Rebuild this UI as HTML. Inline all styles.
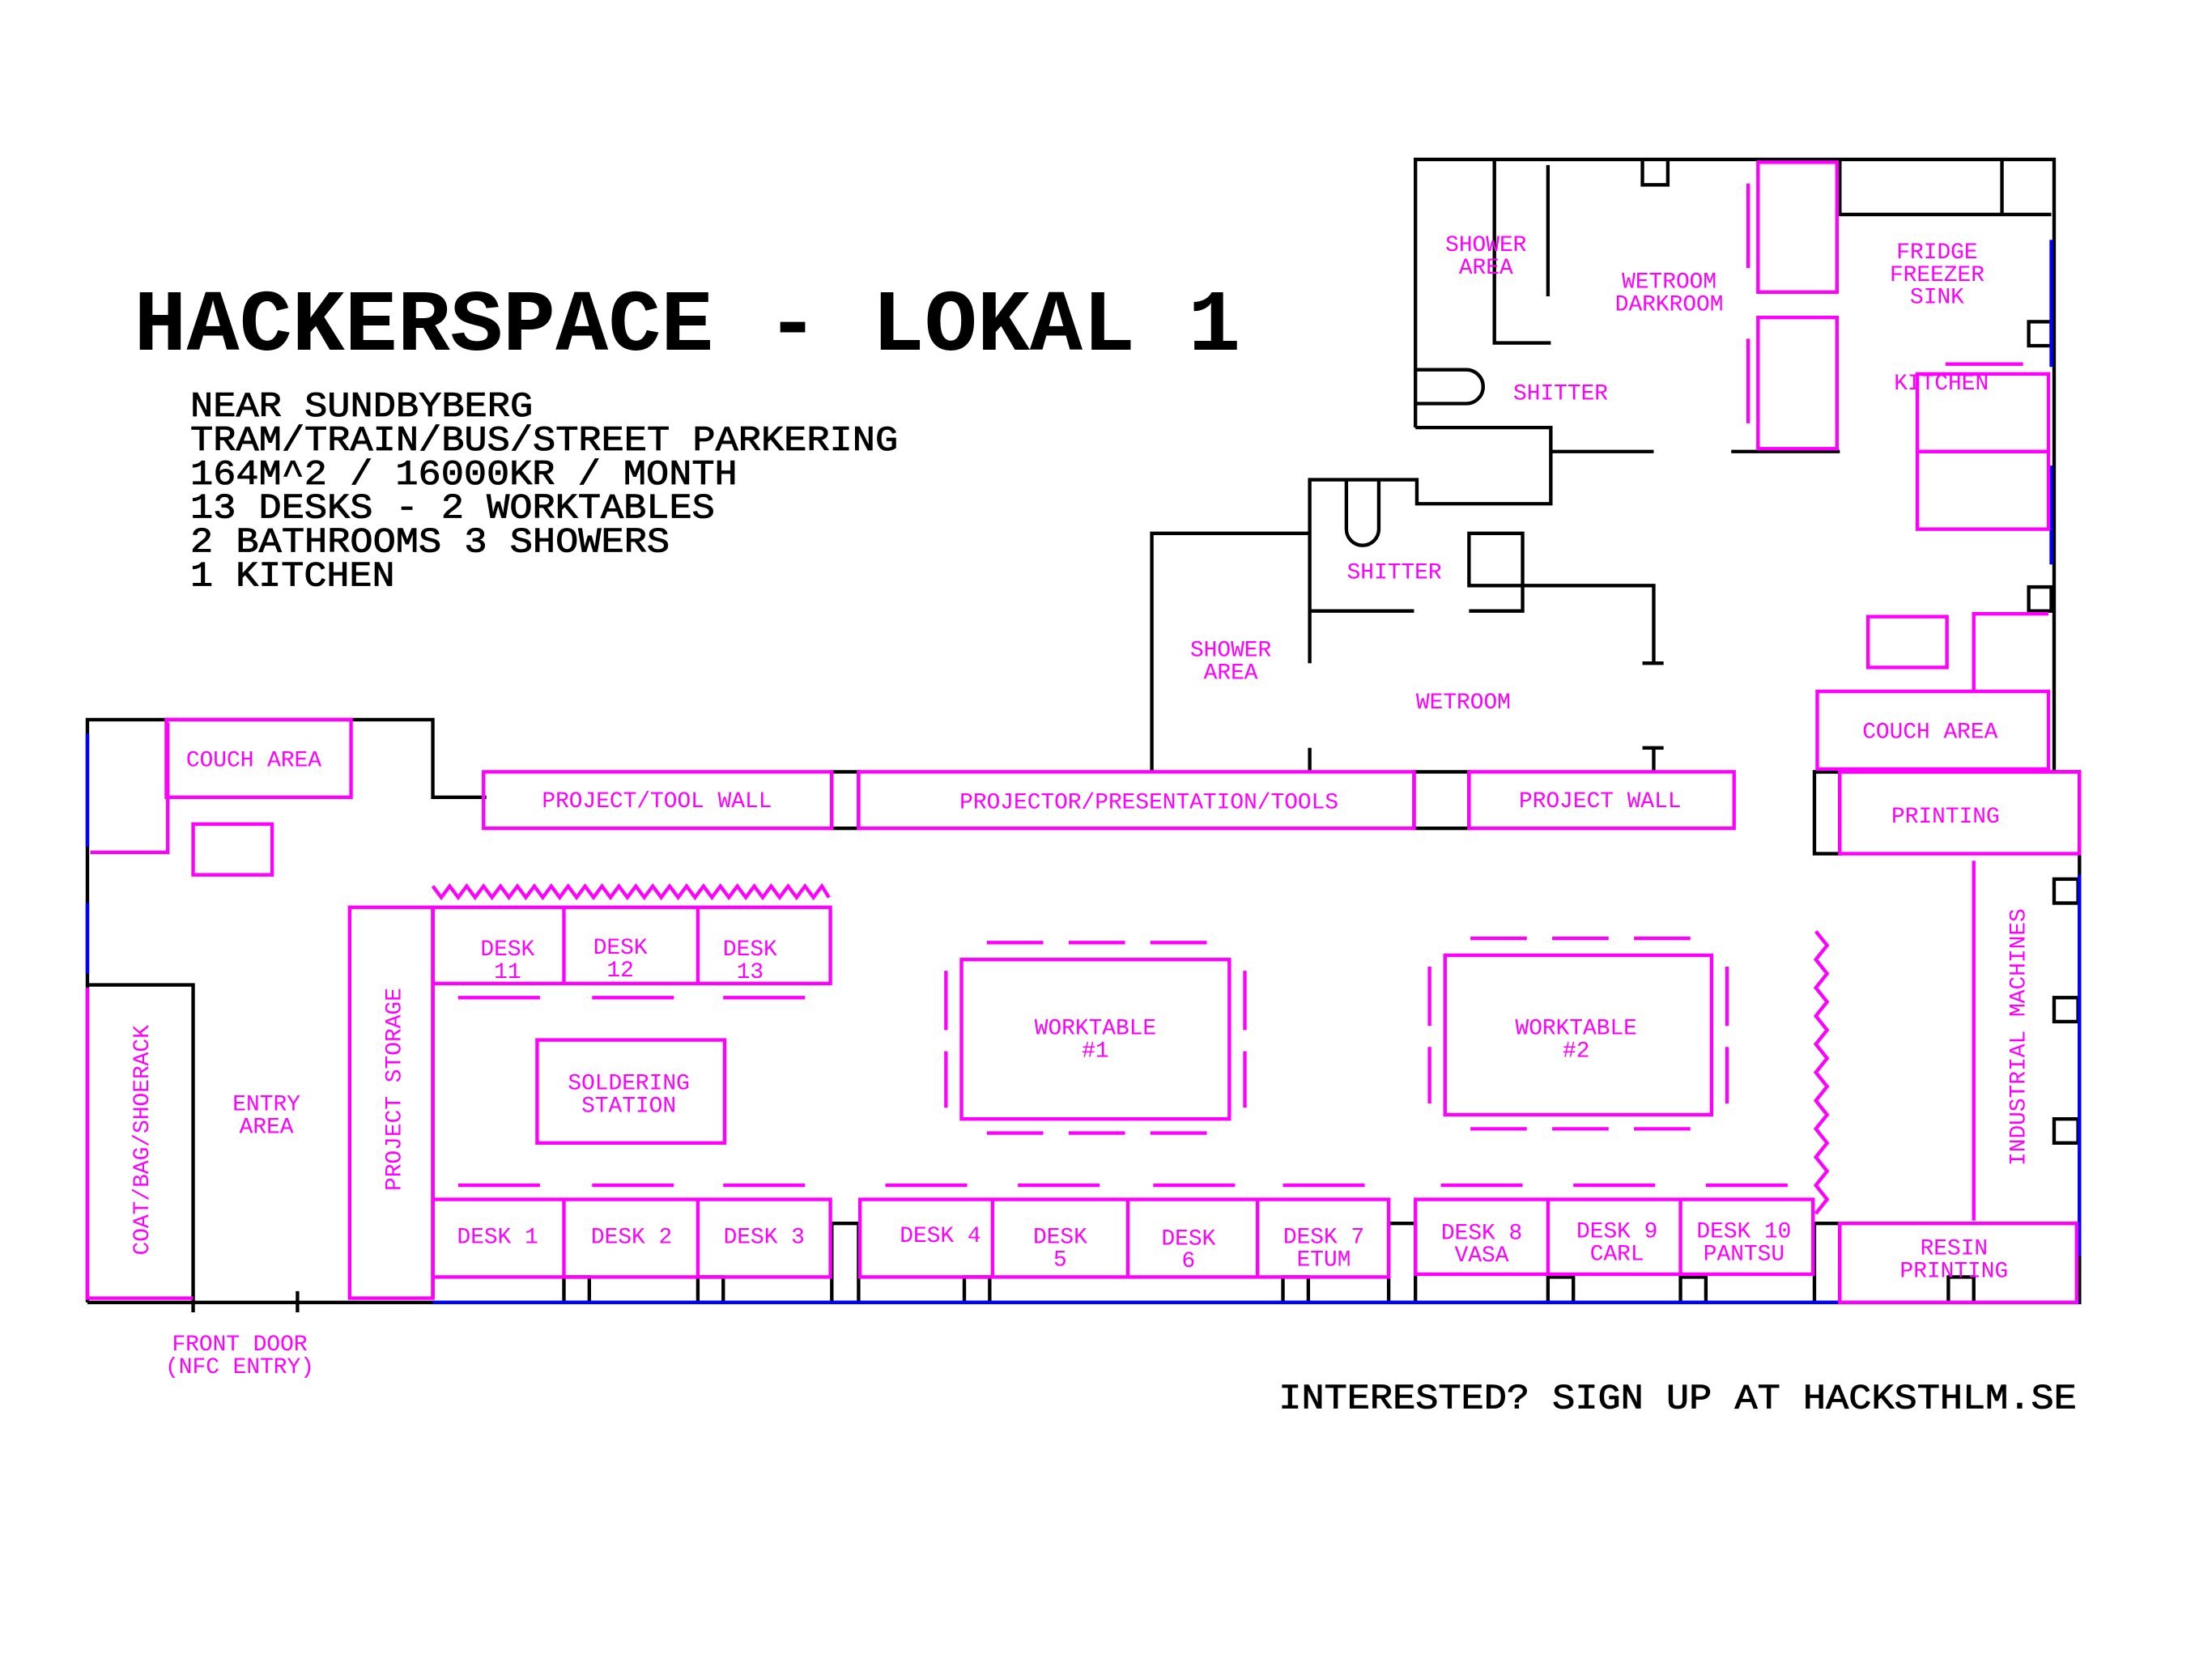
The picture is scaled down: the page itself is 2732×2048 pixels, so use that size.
<!DOCTYPE html>
<html><head><meta charset="utf-8"><style>
html,body{margin:0;padding:0;background:#fff;}
svg{display:block;}
text{font-family:"Liberation Mono","DejaVu Sans Mono",monospace;}
.m{fill:#ff00ff;font-size:16px;text-anchor:middle;}
.r{fill:none;stroke:#ff00ff;stroke-width:2.5;}
.k{fill:none;stroke:#000;stroke-width:2.5;}
.b{fill:none;stroke:#0000ff;stroke-width:2.5;}
</style></head><body>
<svg width="2732" height="2048" viewBox="0 0 1569 1175" preserveAspectRatio="none" xmlns="http://www.w3.org/2000/svg">
<rect width="1569" height="1175" fill="#fff"/>
<text x="95" y="248" font-size="62" font-weight="bold" textLength="785" lengthAdjust="spacingAndGlyphs">HACKERSPACE - LOKAL 1</text>
<g font-size="25" stroke="#000" stroke-width="0.5">
<text x="135" y="295" textLength="243" lengthAdjust="spacingAndGlyphs">NEAR SUNDBYBERG</text>
<text x="135" y="319" textLength="502" lengthAdjust="spacingAndGlyphs">TRAM/TRAIN/BUS/STREET PARKERING</text>
<text x="135" y="343" textLength="388" lengthAdjust="spacingAndGlyphs">164M^2 / 16000KR / MONTH</text>
<text x="135" y="367" textLength="372" lengthAdjust="spacingAndGlyphs">13 DESKS - 2 WORKTABLES</text>
<text x="135" y="391" textLength="340" lengthAdjust="spacingAndGlyphs">2 BATHROOMS 3 SHOWERS</text>
<text x="135" y="415" textLength="145" lengthAdjust="spacingAndGlyphs">1 KITCHEN</text>
<text x="907" y="998" textLength="566" lengthAdjust="spacingAndGlyphs">INTERESTED? SIGN UP AT HACKSTHLM.SE</text>
</g>

<path class="k" d="M62 923 V510 H307 V565 H345"/>
<path class="k" d="M62 923 H1475 V547 H1287"/>
<path class="k" d="M1004 303 V113 H1457 V547"/>
<path class="k" d="M1004 303 H1100 V357 H1005 V340 H929 V470"/>
<path class="k" d="M929 378 H817 V547"/>
<path class="k" d="M1060 113 V243 H1100"/>
<path class="k" d="M1098 117 V210"/>
<path class="k" d="M1100 320 H1173 M1228 320 H1305"/>
<path class="k" d="M1305 113 V152 H1455 M1420 113 V152"/>
<path class="k" d="M1360 320 H1453"/>
<path class="k" d="M929 433 H1003 M1042 433 H1080 V378 H1042 V415 H1080 M1080 415 H1173 V470"/>
<path class="k" d="M929 530 V547 M1173 530 V547 M1165 530 H1180 M1165 470 H1180"/>
<path class="k" d="M62 698 H137 V930 M211 915 V930"/>
<path class="k" d="M1183 113 V131 H1165 V113"/>
<rect class="k" x="590" y="547" width="19" height="40"/>
<rect class="k" x="1003" y="547" width="39" height="40"/>
<rect class="k" x="1287" y="547" width="18" height="58"/>
<rect class="k" x="1287" y="867" width="18" height="56"/>
<rect class="k" x="590" y="867" width="19" height="56"/>
<rect class="k" x="985" y="867" width="19" height="56"/>
<rect class="k" x="1439" y="228" width="16" height="17"/>
<rect class="k" x="1439" y="416" width="16" height="17"/>
<rect class="k" x="1457" y="623" width="17" height="17"/>
<rect class="k" x="1457" y="707" width="17" height="17"/>
<rect class="k" x="1457" y="793" width="17" height="17"/>
<g class="k">
<rect x="400" y="905" width="18" height="18"/><rect x="495" y="905" width="18" height="18"/>
<rect x="684" y="905" width="18" height="18"/><rect x="910" y="905" width="18" height="18"/>
<rect x="1098" y="905" width="18" height="18"/><rect x="1192" y="905" width="18" height="18"/>
<rect x="1382" y="905" width="18" height="18"/>
</g>
<path class="k" d="M1005 262 H1040 A12 12 0 0 1 1040 286 H1005"/>
<path class="k" d="M955 340 V375 A11 11 0 0 0 978 375 V340"/>
<path class="k" d="M307 643 V920"/>
<path class="b" d="M62 520 V600 M62 640 V690 M307 923 H1475 M1455 170 V260 M1455 330 V400 M1475 620 V890"/>

<rect class="r" x="118" y="510" width="131" height="55"/>
<path class="r" d="M64 604 H119 V512"/>
<rect class="r" x="137" y="584" width="56" height="36"/>
<rect class="r" x="343" y="547" width="247" height="40"/>
<rect class="r" x="609" y="547" width="394" height="40"/>
<rect class="r" x="1042" y="547" width="188" height="40"/>
<rect class="r" x="1305" y="547" width="170" height="58"/>
<rect class="r" x="1289" y="490" width="164" height="55"/>
<path class="r" d="M1400 490 V435 H1453"/>
<rect class="r" x="1325" y="437" width="56" height="36"/>
<rect class="r" x="1360" y="265" width="93" height="55"/>
<rect class="r" x="1360" y="320" width="93" height="55"/>
<path class="r" d="M1380 258 H1435"/>
<rect class="r" x="1247" y="115" width="56" height="92"/>
<rect class="r" x="1247" y="225" width="56" height="93"/>
<path class="r" d="M1240 130 V190 M1240 240 V300"/>
<rect class="r" x="307" y="643" width="282" height="54"/>
<path class="r" d="M400 643 V697 M495 643 V697"/>
<path class="r" d="M325 707 H383 M420 707 H478 M513 707 H571"/>
<polyline class="r" points="307,628 313,636 319,628 325,636 331,628 337,636 343,628 349,636 355,628 361,636 367,628 373,636 379,628 385,636 391,628 397,636 403,628 409,636 415,628 421,636 427,628 433,636 439,628 445,636 451,628 457,636 463,628 469,636 475,628 481,636 487,628 493,636 499,628 505,636 511,628 517,636 523,628 529,636 535,628 541,636 547,628 553,636 559,628 565,636 571,628 577,636 583,628 588,636"/>
<rect class="r" x="381" y="737" width="133" height="73"/>
<rect class="r" x="682" y="680" width="190" height="113"/>
<path class="r" d="M700 668 H740 M758 668 H798 M816 668 H856 M700 803 H740 M758 803 H798 M816 803 H856 M671 688 V730 M671 745 V785 M883 688 V730 M883 745 V785"/>
<rect class="r" x="1025" y="677" width="189" height="113"/>
<path class="r" d="M1043 665 H1083 M1101 665 H1141 M1159 665 H1199 M1043 800 H1083 M1101 800 H1141 M1159 800 H1199 M1014 685 V727 M1014 742 V782 M1225 685 V727 M1225 742 V782"/>
<polyline class="r" points="1288,660 1296,670 1288,680 1296,690 1288,700 1296,710 1288,720 1296,730 1288,740 1296,750 1288,760 1296,770 1288,780 1296,790 1288,800 1296,810 1288,820 1296,830 1288,840 1296,850 1288,860"/>
<rect class="r" x="248" y="643" width="59" height="277"/>
<path class="r" d="M62 700 V920 H137"/>
<rect class="r" x="307" y="850" width="282" height="55"/>
<path class="r" d="M400 850 V905 M495 850 V905"/>
<rect class="r" x="610" y="850" width="375" height="55"/>
<path class="r" d="M704 850 V905 M800 850 V905 M892 850 V905"/>
<rect class="r" x="1004" y="850" width="282" height="53"/>
<path class="r" d="M1098 850 V903 M1192 850 V903"/>
<path class="r" d="M325 840 H383 M420 840 H478 M513 840 H571 M628 840 H686 M722 840 H780 M818 840 H876 M910 840 H968 M1022 840 H1080 M1116 840 H1174 M1210 840 H1268"/>
<path class="r" d="M1400 610 V865"/>
<rect class="r" x="1305" y="867" width="168" height="56"/>

<text class="m" x="180" y="543">COUCH AREA</text>
<text class="m" x="466" y="572">PROJECT/TOOL WALL</text>
<text class="m" x="815" y="573">PROJECTOR/PRESENTATION/TOOLS</text>
<text class="m" x="1135" y="572">PROJECT WALL</text>
<text class="m" x="1380" y="583">PRINTING</text>
<text class="m" x="1369" y="523">COUCH AREA</text>
<text class="m" x="1377" y="276">KITCHEN</text>
<text class="m" x="1374" y="183">FRIDGE</text>
<text class="m" x="1374" y="199">FREEZER</text>
<text class="m" x="1374" y="215">SINK</text>
<text class="m" x="1184" y="204">WETROOM</text>
<text class="m" x="1184" y="220">DARKROOM</text>
<text class="m" x="1054" y="178">SHOWER</text>
<text class="m" x="1054" y="194">AREA</text>
<text class="m" x="1107" y="283">SHITTER</text>
<text class="m" x="989" y="410">SHITTER</text>
<text class="m" x="873" y="465">SHOWER</text>
<text class="m" x="873" y="481">AREA</text>
<text class="m" x="1038" y="502">WETROOM</text>
<text class="m" x="360" y="677">DESK</text><text class="m" x="360" y="693">11</text>
<text class="m" x="440" y="676">DESK</text><text class="m" x="440" y="692">12</text>
<text class="m" x="532" y="677">DESK</text><text class="m" x="532" y="693">13</text>
<text class="m" x="446" y="772">SOLDERING</text><text class="m" x="446" y="788">STATION</text>
<text class="m" x="777" y="733">WORKTABLE</text><text class="m" x="777" y="749">#1</text>
<text class="m" x="1118" y="733">WORKTABLE</text><text class="m" x="1118" y="749">#2</text>
<text class="m" x="189" y="787">ENTRY</text><text class="m" x="189" y="803">AREA</text>
<text class="m" x="170" y="957">FRONT DOOR</text><text class="m" x="170" y="973">(NFC ENTRY)</text>
<text class="m" transform="translate(284 772) rotate(-90)">PROJECT STORAGE</text>
<text class="m" transform="translate(105 808) rotate(-90)">COAT/BAG/SHOERACK</text>
<text class="m" transform="translate(1436 735) rotate(-90)">INDUSTRIAL MACHINES</text>
<text class="m" x="353" y="881">DESK 1</text>
<text class="m" x="448" y="881">DESK 2</text>
<text class="m" x="542" y="881">DESK 3</text>
<text class="m" x="667" y="880">DESK 4</text>
<text class="m" x="752" y="881">DESK</text><text class="m" x="752" y="897">5</text>
<text class="m" x="843" y="882">DESK</text><text class="m" x="843" y="898">6</text>
<text class="m" x="939" y="881">DESK 7</text><text class="m" x="939" y="897">ETUM</text>
<text class="m" x="1051" y="878">DESK 8</text><text class="m" x="1051" y="894">VASA</text>
<text class="m" x="1147" y="877">DESK 9</text><text class="m" x="1147" y="893">CARL</text>
<text class="m" x="1237" y="877">DESK 10</text><text class="m" x="1237" y="893">PANTSU</text>
<text class="m" x="1386" y="889">RESIN</text><text class="m" x="1386" y="905">PRINTING</text>
</svg>
</body></html>
